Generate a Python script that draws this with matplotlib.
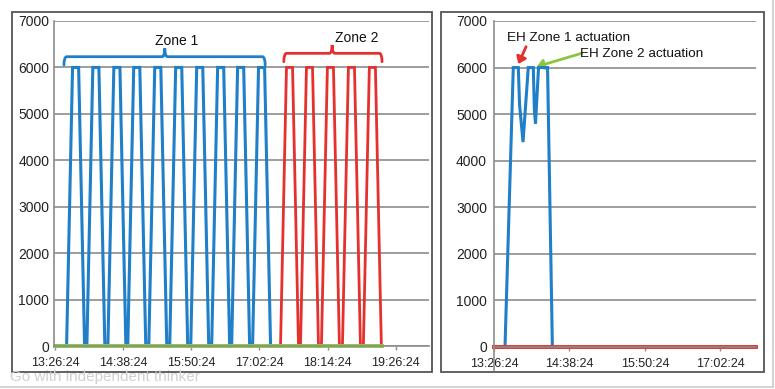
import matplotlib
matplotlib.use("Agg")
import matplotlib.pyplot as plt
from matplotlib.path import Path
from matplotlib.patches import PathPatch, Rectangle, FancyArrowPatch
from matplotlib.lines import Line2D

plt.rcParams['font.family'] = ['Liberation Sans', 'DejaVu Sans']

# ---------------- data (minutes after 13:26:24) ----------------
y_ticks = [0, 1000, 2000, 3000, 4000, 5000, 6000, 7000]
left_tick_min = [0, 72, 144, 216, 288, 360]
left_tick_labels = ["13:26:24", "14:38:24", "15:50:24", "17:02:24", "18:14:24", "19:26:24"]
right_tick_min = [0, 72, 144, 216]
right_tick_labels = ["13:26:24", "14:38:24", "15:50:24", "17:02:24"]

zone1_t = [0, 12.3, 18.6, 25.0, 31.3, 33.7, 40.0, 46.4, 52.7, 55.9, 62.2, 68.6, 74.9,
           76.9, 83.2, 89.6, 95.9, 99.1, 105.4, 111.8, 118.1, 121.2, 127.5, 133.9, 140.2,
           143.4, 149.7, 156.1, 162.4, 165.5, 171.8, 178.2, 184.5, 186.6, 192.9, 199.3,
           205.6, 208.7, 215.0, 221.4, 227.7]
zone1_v = [0, 0, 6000, 6000, 0, 0, 6000, 6000, 0, 0, 6000, 6000, 0,
           0, 6000, 6000, 0, 0, 6000, 6000, 0, 0, 6000, 6000, 0,
           0, 6000, 6000, 0, 0, 6000, 6000, 0, 0, 6000, 6000,
           0, 0, 6000, 6000, 0]

zone2_t = [227.7, 238.2, 244.5, 250.9, 257.2, 259.3, 265.6, 272.0, 278.3, 281.4, 287.7,
           294.1, 300.4, 303.6, 309.9, 316.3, 322.6, 325.7, 332.0, 338.4, 344.7]
zone2_v = [0, 0, 6000, 6000, 0, 0, 6000, 6000, 0, 0, 6000,
           6000, 0, 0, 6000, 6000, 0, 0, 6000, 6000, 0]

base_t = [0, 345.0]
base_v = [0, 0]

eh_t = [0, 10.5, 18.4, 23.2, 24.4, 27.7, 32.7, 37.5, 38.5, 39.6, 42.5, 51.1, 55.7]
eh_v = [0, 0, 6000, 6000, 5200, 4400, 6000, 6000, 5100, 4800, 6000, 6000, 0]

eh2_t = [0, 250]
eh2_v = [0, 0]

BLUE = '#1f7fc8'
RED = '#e5302d'
GREEN = '#8cc63f'
GRID = '#8c8c8c'

W, H = 775, 389
fig = plt.figure(figsize=(W / 100, H / 100), dpi=100)
fig.patch.set_facecolor('white')


def fx(px):
    return px / W


def fy(py):
    return 1 - py / H


def make_axes(l, r, t, b):
    return fig.add_axes([fx(l), fy(b), fx(r) - fx(l), fy(t) - fy(b)])


# panel frames
for (l, t, r, b) in [(12, 12, 432, 372), (441, 12, 764, 372)]:
    fig.add_artist(Rectangle((fx(l), fy(b)), fx(r) - fx(l), fy(t) - fy(b),
                             transform=fig.transFigure, fill=False,
                             edgecolor='#555555', linewidth=1.3))
# faint outer border
fig.add_artist(Line2D([0, fx(773)], [fy(387), fy(387)], transform=fig.transFigure,
                      color='#cccccc', linewidth=1.2))
fig.add_artist(Line2D([fx(773), fx(773)], [fy(0), fy(387)], transform=fig.transFigure,
                      color='#cccccc', linewidth=1.2))

ax1 = make_axes(54, 429, 21, 346)
ax2 = make_axes(494, 756, 21, 347)


def style(ax, xl, ticks, labels, ypad):
    ax.set_xlim(*xl)
    ax.set_ylim(0, 7000)
    ax.set_yticks(y_ticks)
    ax.set_xticks(ticks)
    ax.set_xticklabels(labels)
    ax.grid(axis='y', color=GRID, linewidth=1.2)
    ax.set_axisbelow(True)
    for s in ['top', 'right']:
        ax.spines[s].set_visible(False)
    ax.spines['left'].set_color(GRID)
    ax.spines['left'].set_linewidth(1.2)
    ax.spines['bottom'].set_color(GRID)
    ax.spines['bottom'].set_linewidth(1.2)
    ax.tick_params(axis='y', length=0, pad=ypad, labelsize=10, labelcolor='#222222')
    ax.tick_params(axis='x', length=3, width=1, color=GRID, pad=5,
                   labelsize=9, labelcolor='#222222')
    ax.patch.set_alpha(0)


style(ax1, (-1, 395), left_tick_min, left_tick_labels, 3.5)
style(ax2, (0, 250), right_tick_min, right_tick_labels, 5)

# left panel lines
ax1.plot(zone1_t, zone1_v, color=BLUE, linewidth=2.2, clip_on=False, solid_joinstyle='miter')
ax1.plot(zone2_t, zone2_v, color=RED, linewidth=2.0, clip_on=False, solid_joinstyle='miter')
ax1.plot(base_t, base_v, color=GREEN, linewidth=2.8, clip_on=False)

# right panel lines
ax2.plot(eh_t, eh_v, color=BLUE, linewidth=2.2, clip_on=False, solid_joinstyle='miter')
ax2.plot(eh2_t, eh2_v, color=RED, linewidth=2.8, clip_on=False)
ax2.plot([0, 0], [0, -0.07], transform=ax2.transAxes, color=GRID, linewidth=1.2, clip_on=False)


def brace(ax, x0, x1, xc, y_end, y_h, y_tip, rx, color):
    verts = [(x0, y_end), (x0, y_h), (x0 + rx, y_h),
             (xc - rx, y_h), (xc, y_h), (xc, y_tip),
             (xc, y_h), (xc + rx, y_h),
             (x1 - rx, y_h), (x1, y_h), (x1, y_end)]
    codes = [Path.MOVETO, Path.CURVE3, Path.CURVE3,
             Path.LINETO, Path.CURVE3, Path.CURVE3,
             Path.CURVE3, Path.CURVE3,
             Path.LINETO, Path.CURVE3, Path.CURVE3]
    ax.add_patch(PathPatch(Path(verts, codes), fill=False, edgecolor=color,
                           linewidth=2.0, capstyle='round'))


brace(ax1, 9.5, 222, 116, 6052, 6231, 6412, 3.0, BLUE)
brace(ax1, 241.7, 345.4, 292.7, 6123, 6304, 6483, 3.0, RED)
ax1.text(129, 6569, "Zone 1", ha='center', va='center', fontsize=10, color='#111111')
ax1.text(319, 6627, "Zone 2", ha='center', va='center', fontsize=10, color='#111111')

# annotations right panel
ax2.text(12.4, 6635, "EH Zone 1 actuation", ha='left', va='center', fontsize=9.7, color='#111111')
ax2.text(82, 6290, "EH Zone 2 actuation", ha='left', va='center', fontsize=9.7, color='#111111')
ax2.add_patch(FancyArrowPatch((30.6, 6449), (23.2, 6077), arrowstyle='-|>,head_length=4,head_width=3',
                              color=RED, linewidth=2.0, shrinkA=0, shrinkB=0))
ax2.add_patch(FancyArrowPatch((83.7, 6307), (40.8, 6020), arrowstyle='-|>,head_length=4,head_width=3',
                              color=GREEN, linewidth=2.0, shrinkA=0, shrinkB=0))

# watermark
fig.text(fx(10), fy(377), "Go with independent thinker", ha='left', va='center',
         fontsize=11, color='#d0d0d0')

fig.savefig("out.png", dpi=100)
